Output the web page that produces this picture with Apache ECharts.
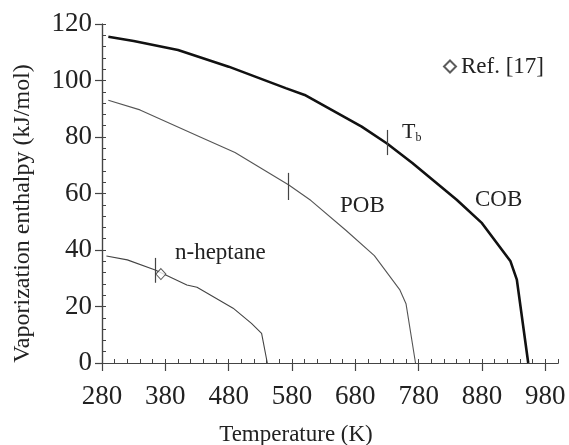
<!DOCTYPE html>
<html>
<head>
<meta charset="utf-8">
<script src="https://cdn.jsdelivr.net/npm/echarts@6/dist/echarts.min.js"></script>
<style>
  html, body { margin: 0; padding: 0; background: #fff; }
  #chart { width: 569px; height: 445px; }
</style>
</head>
<body>
<div id="chart"></div>
<script>
// COB curve (thick)
var cobT = [290, 330, 400, 480, 570, 600, 690, 730, 770, 840, 880, 925, 935, 953];
var cobH = [115.5, 114, 110.8, 104.9, 97.3, 94.9, 83.7, 77.7, 70.8, 57.8, 49.5, 36, 29.5, 0];
// POB curve
var pobT = [290, 340, 435, 490, 575, 610, 665, 710, 750, 760, 775];
var pobH = [93, 89.6, 80, 74.5, 63, 57.5, 47, 38, 26, 21, 0];
// n-heptane
var hepT = [287, 320, 364, 414, 430, 487, 516, 532, 541];
var hepH = [37.9, 36.5, 32.9, 27.6, 26.8, 19.4, 14, 10.5, 0];
// Ref. [17] point
var refPoint = [[373, 31.5]];
// boiling point marks: T, lower H, upper H
var markHep = [364, 28.4, 37.2];
var markPob = [574, 57.7, 67.3];
var markCob = [730, 73.6, 82.5];

var xMajor = [280, 380, 480, 580, 680, 780, 880, 980];
var xMinor = [];
for (var t = 280; t <= 1000; t += 20) xMinor.push(t);
var yMajor = [0, 20, 40, 60, 80, 100, 120];
var yMinor = [];
for (var h = 0; h <= 120; h += 4) yMinor.push(h);

var font = "Liberation Serif";
var axisColor = "#444";

function toPairs(xs, ys) {
  var out = [];
  for (var i = 0; i < xs.length; i++) out.push([xs[i], ys[i]]);
  return out;
}
function vmark(m) {
  return {
    silent: true,
    symbol: "none",
    label: { show: false },
    lineStyle: { color: "#444", width: 1.2, type: "solid" },
    data: [[{ coord: [m[0], m[1]] }, { coord: [m[0], m[2]] }]]
  };
}

var chart = echarts.init(document.getElementById("chart"));
var option = {
  backgroundColor: "#fff",
  animation: false,
  grid: { left: 102, right: 11, top: 24, bottom: 82, outerBoundsMode: "none", containLabel: false },
  legend: {
    left: 438,
    top: 50,
    icon: "diamond",
    itemWidth: 12,
    itemHeight: 12,
    itemGap: 4,
    textStyle: { fontFamily: font, fontSize: 23, color: "#222" },
    data: ["Ref. [17]"]
  },
  xAxis: [
    {
      type: "value",
      position: "bottom",
      min: 280,
      max: 1000,
      name: "Temperature (K)",
      nameLocation: "middle",
      nameGap: 60,
      nameTextStyle: { fontFamily: font, fontSize: 23, color: "#222", padding: [0, 68, 0, 0] },
      axisLine: { show: true, lineStyle: { color: axisColor, width: 1.2 } },
      axisTick: { show: true, customValues: xMajor, length: 8, lineStyle: { color: axisColor, width: 1.2 } },
      axisLabel: { customValues: xMajor, margin: 20, fontFamily: font, fontSize: 27, color: "#222" },
      splitLine: { show: false }
    },
    {
      type: "value",
      position: "bottom",
      min: 280,
      max: 1000,
      axisLine: { show: true, lineStyle: { color: axisColor, width: 1.2 } },
      axisTick: { show: true, inside: true, customValues: xMinor, length: 4, lineStyle: { color: axisColor, width: 1 } },
      axisLabel: { show: false },
      splitLine: { show: false }
    }
  ],
  yAxis: [
    {
      type: "value",
      position: "left",
      min: 0,
      max: 120,
      interval: 20,
      name: "Vaporization enthalpy (kJ/mol)",
      nameLocation: "middle",
      nameGap: 67,
      nameTextStyle: { fontFamily: font, fontSize: 24, color: "#222", padding: [0, 40, 0, 0] },
      axisLine: { show: true, lineStyle: { color: axisColor, width: 1.2 } },
      axisTick: { show: true, customValues: yMajor, length: 7, lineStyle: { color: axisColor, width: 1.2 } },
      axisLabel: { customValues: yMajor, margin: 10, fontFamily: font, fontSize: 27, color: "#222" },
      splitLine: { show: false }
    },
    {
      type: "value",
      position: "left",
      min: 0,
      max: 120,
      axisLine: { show: true, lineStyle: { color: axisColor, width: 1.2 } },
      axisTick: { show: true, inside: true, customValues: yMinor, length: 4, lineStyle: { color: axisColor, width: 1 } },
      axisLabel: { show: false },
      splitLine: { show: false }
    }
  ],
  graphic: [
    { type: "text", left: 175, top: 241, style: { text: "n-heptane", font: "23px 'Liberation Serif'", fill: "#222" } },
    { type: "text", left: 340, top: 194, style: { text: "POB", font: "23px 'Liberation Serif'", fill: "#222" } },
    { type: "text", left: 475, top: 188, style: { text: "COB", font: "23px 'Liberation Serif'", fill: "#222" } },
    {
      type: "text", left: 402, top: 121,
      style: {
        text: "{a|T}{b|b}",
        rich: {
          a: { fontFamily: font, fontSize: 22, fill: "#222", color: "#222" },
          b: { fontFamily: font, fontSize: 12, fill: "#222", color: "#222", padding: [12, 0, 0, 0] }
        }
      }
    }
  ],
  series: [
    {
      name: "COB",
      type: "line",
      showSymbol: false,
      symbol: "none",
      lineStyle: { color: "#111", width: 2.6 },
      data: toPairs(cobT, cobH),
      markLine: vmark(markCob)
    },
    {
      name: "POB",
      type: "line",
      showSymbol: false,
      symbol: "none",
      lineStyle: { color: "#555", width: 1.1 },
      data: toPairs(pobT, pobH),
      markLine: vmark(markPob)
    },
    {
      name: "n-heptane",
      type: "line",
      showSymbol: false,
      symbol: "none",
      lineStyle: { color: "#444", width: 1.1 },
      data: toPairs(hepT, hepH),
      markLine: vmark(markHep)
    },
    {
      name: "Ref. [17]",
      type: "scatter",
      symbol: "diamond",
      symbolSize: [10, 11],
      itemStyle: { color: "#fff", borderColor: "#333", borderWidth: 1 },
      data: refPoint,
      z: 5
    }
  ]
};
chart.setOption(option);
</script>
</body>
</html>
